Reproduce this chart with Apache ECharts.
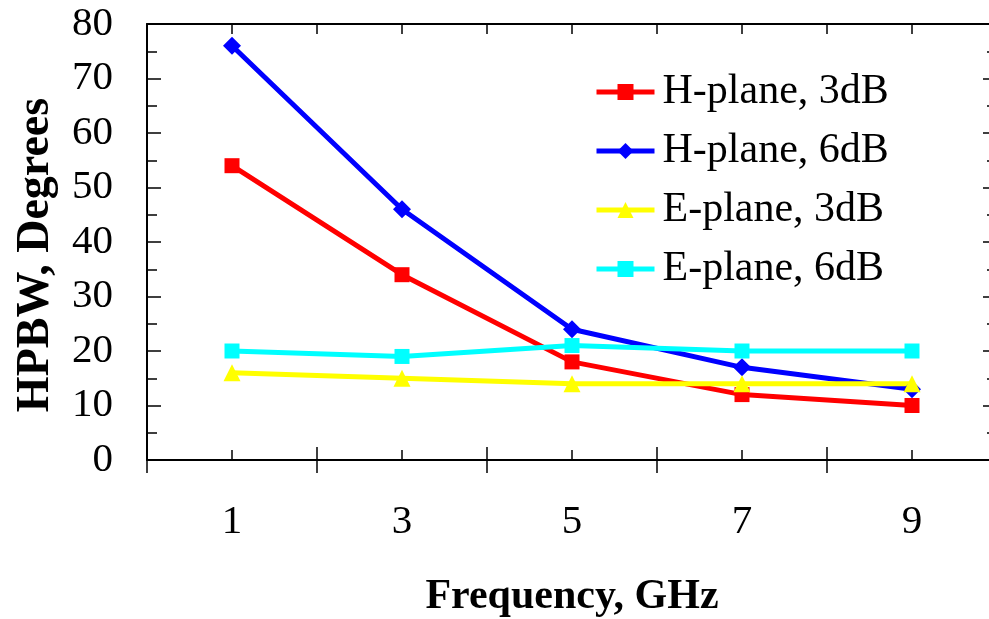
<!DOCTYPE html>
<html>
<head>
<meta charset="utf-8">
<script src="https://cdn.jsdelivr.net/npm/echarts@6/dist/echarts.min.js"></script>
<style>html,body{margin:0;padding:0;background:#fff;}#c{width:989px;height:619px;}</style>
</head>
<body>
<div id="c"></div>
<script>
const freq = [1, 3, 5, 7, 9];
const hPlane3dB = [54, 34, 18, 12, 10];
const hPlane6dB = [76, 46, 24, 17, 13];
const ePlane3dB = [16, 15, 14, 14, 14];
const ePlane6dB = [20, 19, 21, 20, 20];
const seriesNames = ['H-plane, 3dB', 'H-plane, 6dB', 'E-plane, 3dB', 'E-plane, 6dB'];
const xLabels = [1, 3, 5, 7, 9];

const font = 'Liberation Serif, Times New Roman, serif';
const pairs = arr => freq.map((f, i) => [f, arr[i]]);

const chart = echarts.init(document.getElementById('c'), null, {renderer: 'canvas'});

const baseX = {
  type: 'value', min: 0, max: 10, interval: 1, gridIndex: 0,
  splitLine: {show: false},
  axisLine: {show: true, onZero: false, lineStyle: {color: '#000', width: 2}},
  axisTick: {show: true, inside: true, length: 10, lineStyle: {color: '#000', width: 1.5}},
  axisLabel: {show: false}
};
const longX = {
  type: 'value', min: 0, max: 10, interval: 2, gridIndex: 0,
  splitLine: {show: false},
  axisLine: {show: false},
  axisTick: {show: true, inside: true, length: 13, lineStyle: {color: '#000', width: 1.5}},
  axisLabel: {show: false}
};

const option = {
  backgroundColor: '#fff',
  animation: false,
  grid: {left: 147, top: 24, width: 850, height: 436, containLabel: false, outerBoundsMode: 'none'},
  legend: {
    orient: 'vertical', left: 589, top: 66,
    itemWidth: 58, itemHeight: 20, itemGap: 17,
    lineStyle: {width: 5},
    textStyle: {fontFamily: font, fontSize: 42, lineHeight: 42, color: '#000', padding: [0, 0, 0, 3]},
    data: seriesNames
  },
  xAxis: [
    Object.assign({}, baseX, {
      position: 'bottom',
      name: 'Frequency, GHz', nameLocation: 'middle', nameGap: 116,
      nameTextStyle: {fontFamily: font, fontSize: 42, fontWeight: 'bold', color: '#000'},
      axisLabel: {show: true, margin: 42, fontFamily: font, fontSize: 41, color: '#000',
        formatter: v => (xLabels.indexOf(v) >= 0 ? String(v) : '')}
    }),
    Object.assign({}, baseX, {position: 'top'}),
    Object.assign({}, longX, {position: 'bottom'}),
    Object.assign({}, longX, {position: 'top'})
  ],
  yAxis: [
    {
      type: 'value', min: 0, max: 80, interval: 10, position: 'left',
      name: 'HPBW, Degrees', nameLocation: 'middle', nameGap: 88,
      nameTextStyle: {fontFamily: font, fontSize: 46, fontWeight: 'bold', color: '#000', padding: [0, 26, 0, 0]},
      splitLine: {show: false},
      axisLine: {show: true, onZero: false, lineStyle: {color: '#000', width: 2}},
      axisTick: {show: true, inside: true, length: 14, lineStyle: {color: '#000', width: 1.5}},
      minorTick: {show: true, splitNumber: 2, length: 10, lineStyle: {color: '#000', width: 1.5}},
      axisLabel: {margin: 34, fontFamily: font, fontSize: 41, color: '#000'}
    },
    {
      type: 'value', min: 0, max: 80, interval: 10, position: 'right',
      splitLine: {show: false},
      axisLine: {show: true, onZero: false, lineStyle: {color: '#000', width: 2}},
      axisTick: {show: true, inside: true, length: 14, lineStyle: {color: '#000', width: 1.5}},
      minorTick: {show: true, splitNumber: 2, length: 10, lineStyle: {color: '#000', width: 1.5}},
      axisLabel: {show: false}
    }
  ],
  series: [
    {name: seriesNames[0], type: 'line', data: pairs(hPlane3dB), symbol: 'rect', symbolSize: 15,
      color: '#ff0000', lineStyle: {width: 5, color: '#ff0000'}, itemStyle: {color: '#ff0000'}},
    {name: seriesNames[1], type: 'line', data: pairs(hPlane6dB), symbol: 'diamond', symbolSize: 18,
      color: '#0000ff', lineStyle: {width: 5, color: '#0000ff'}, itemStyle: {color: '#0000ff'}},
    {name: seriesNames[2], type: 'line', data: pairs(ePlane3dB), symbol: 'triangle', symbolSize: 17,
      color: '#ffff00', lineStyle: {width: 5, color: '#ffff00'}, itemStyle: {color: '#ffff00'}},
    {name: seriesNames[3], type: 'line', data: pairs(ePlane6dB), symbol: 'rect', symbolSize: 15,
      color: '#00ffff', lineStyle: {width: 5, color: '#00ffff'}, itemStyle: {color: '#00ffff'}}
  ]
};
chart.setOption(option);
</script>
</body>
</html>
